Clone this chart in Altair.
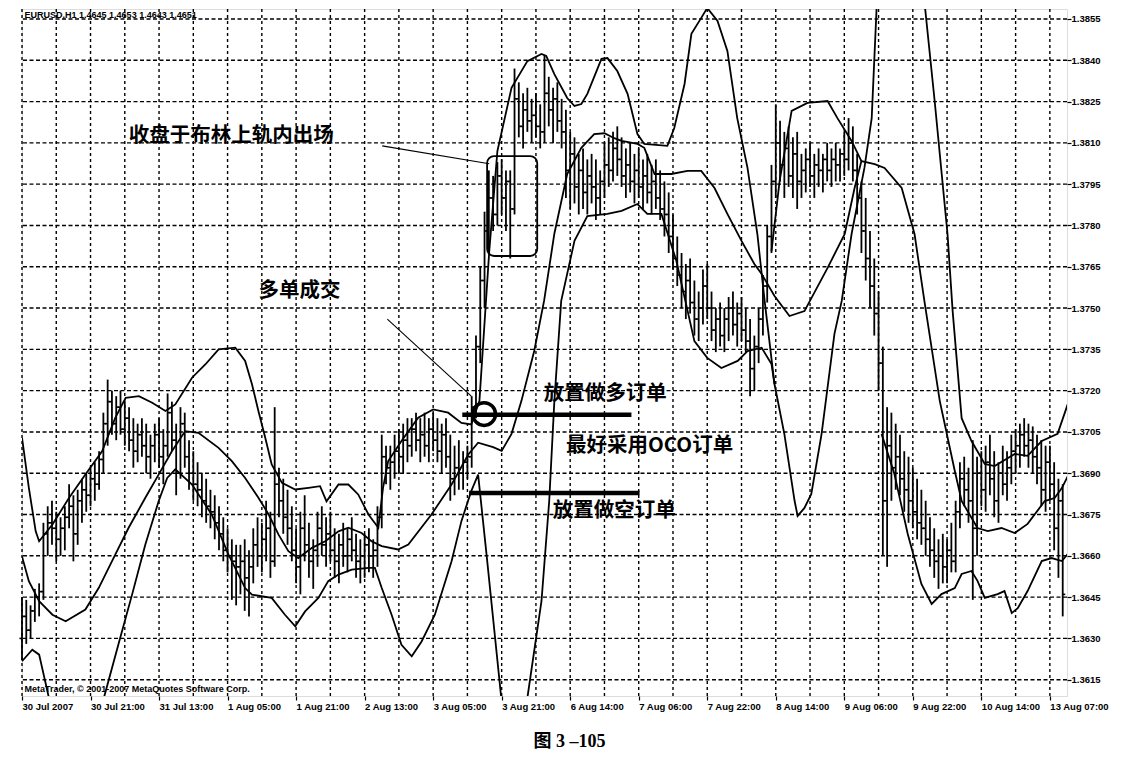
import altair as alt
import pandas as pd

BASE = 1.36
PIP = 0.0001

x_labels = ["30 Jul 2007", "30 Jul 21:00", "31 Jul 13:00", "1 Aug 05:00", "1 Aug 21:00",
            "2 Aug 13:00", "3 Aug 05:00", "3 Aug 21:00", "6 Aug 14:00", "7 Aug 06:00",
            "7 Aug 22:00", "8 Aug 14:00", "9 Aug 06:00", "9 Aug 22:00", "10 Aug 14:00",
            "13 Aug 07:00"]
label_bars = [0, 16, 32, 48, 64, 80, 96, 112, 128, 144, 160, 176, 192, 208, 224, 240]
grid_bars = [0, 8, 16, 24, 32, 40, 48, 56, 64, 72, 80, 88, 96, 104, 112, 120, 128, 136,
             144, 152, 160, 168, 176, 184, 192, 200, 208, 216, 224, 232, 240]
price_ticks = [1.3615, 1.3630, 1.3645, 1.3660, 1.3675, 1.3690, 1.3705, 1.3720, 1.3735,
               1.3750, 1.3765, 1.3780, 1.3795, 1.3810, 1.3825, 1.3840, 1.3855]

# OHLC in pips above 1.3600, one value per hourly bar
opens = [30,38,33,40,45,47,68,72,70,66, 70,74,78,68,80,84,82,88,86,95,
         108,116,108,114,106,110,102,98,104,100, 96,100,104,96,100,112,102,90,108,96,
         90,86,84,80,78,76,72,68,62,60, 58,56,58,52,56,64,60,66,70,58,
         86,80,74,70,62,56,70,64,58,62, 70,64,68,62,58,64,60,66,62,58,
         60,64,60,62,74,96,92,94,98,96, 102,100,106,102,104,100,106,102,98,104,
         96,88,92,90,94,96,114,136,160,178, 190,184,198,190,196,186,226,216,222,218,
         220,216,214,228,222,226,218,214,200,206, 194,200,192,198,194,190,196,202,200,208,
         204,198,202,196,200,194,198,192,196,190, 186,184,176,168,162,156,160,152,146,150,
         158,150,142,146,140,146,150,144,148,142, 138,128,136,146,158,176,196,210,202,208,
         198,206,196,200,204,198,202,200,204,200, 204,202,206,204,210,200,190,178,168,158,
         148,130,80,100,92,96,88,84,80,76, 72,70,66,62,58,60,56,62,58,76,
         88,84,80,70,90,84,94,88,80,90, 86,92,98,100,104,100,102,96,92,84,
         94,86,70,80]
highs = [45,44,42,48,50,72,78,80,76,74, 78,86,82,84,88,90,92,94,98,112,
         124,120,118,120,116,114,110,108,110,108, 104,108,110,106,119,116,108,114,112,102,
         98,94,90,88,84,82,78,74,70,66, 64,64,66,62,70,74,72,80,76,114,
         92,88,84,78,70,76,82,72,66,76, 78,74,76,70,68,72,70,74,68,66,
         68,70,66,78,104,100,100,104,106,108, 110,110,112,110,112,110,112,110,108,110,
         104,100,102,98,100,118,140,165,185,200, 198,203,204,200,200,237,232,228,230,226,
         228,224,242,234,230,232,226,222,214,212, 206,208,204,206,204,200,210,212,214,216,
         212,208,210,206,208,204,206,202,204,200, 196,192,184,176,170,166,168,160,156,164,
         166,156,150,152,150,154,156,152,154,150, 146,140,150,162,180,202,224,218,214,216,
         212,214,206,208,210,206,208,206,210,208, 210,208,214,219,216,206,196,190,178,168,
         156,136,114,112,108,104,98,96,92,88, 84,80,74,70,66,68,66,72,80,94,
         96,92,102,96,98,100,104,98,94,100, 98,104,106,108,110,108,107,104,102,100,
         100,94,88,86]
lows = [22,28,30,36,38,44,60,64,58,60, 62,70,58,64,72,76,78,80,84,90,
        100,104,102,104,100,98,92,94,96,90, 88,94,92,86,96,98,82,88,92,84,
        80,78,74,72,70,66,62,58,54,44, 42,46,40,38,50,56,54,58,52,56,
        74,68,64,58,50,46,58,52,48,56, 60,56,58,52,50,56,54,58,52,50,
        52,54,52,56,70,86,84,88,90,90, 94,96,98,94,96,94,98,94,90,92,
        80,82,84,84,88,92,110,130,150,170, 178,180,184,178,168,184,212,208,214,210,
        212,208,210,216,210,214,208,190,186,188, 184,186,184,188,182,184,190,194,196,198,
        194,190,192,188,190,186,188,184,186,182, 176,170,164,158,150,146,148,140,138,144,
        146,138,134,136,134,138,140,136,138,134, 118,120,130,140,152,170,190,196,190,194,
        190,186,190,192,194,190,194,192,196,194, 196,196,198,200,196,184,170,160,150,140,
        120,60,56,80,84,82,76,72,70,66, 64,60,56,52,48,50,50,54,54,70,
        78,72,44,60,78,76,82,74,72,82, 80,86,90,92,96,92,90,86,78,76,
        80,62,52,38]
closes = [38,33,40,45,47,68,72,70,66,70, 74,78,68,80,84,82,88,86,95,108,
          116,108,114,106,110,102,98,104,100,96, 100,104,96,100,112,102,90,108,96,90,
          86,84,80,78,76,72,68,62,60,58, 56,58,52,56,64,60,66,70,58,86,
          80,74,70,62,56,70,64,58,62,70, 64,68,62,58,64,60,66,62,58,60,
          64,60,62,74,96,92,94,98,96,102, 100,106,102,104,100,106,102,98,104,96,
          88,92,90,94,96,114,136,160,178,190, 184,198,190,196,186,226,216,222,218,220,
          216,214,228,222,226,218,214,200,206,194, 200,192,198,194,190,196,202,200,208,204,
          198,202,196,200,194,198,192,196,190,186, 184,176,168,162,156,160,152,146,150,158,
          150,142,146,140,146,150,144,148,142,138, 128,136,146,158,176,196,210,202,208,198,
          206,196,200,204,198,202,200,204,200,204, 202,206,204,210,200,190,178,168,158,148,
          130,80,100,92,96,88,84,80,76,72, 70,66,62,58,60,56,62,58,76,88,
          84,80,70,90,84,94,88,80,90,86, 92,98,100,104,100,102,96,92,84,94,
          86,70,80,46]

# indicator curves: (bar index, pips above 1.3600)
upper_bars = [0, 1.6, 3.2, 4.0, 7.1, 11.0, 14.8, 18.7, 21.8, 24.2, 27.3, 30.4, 33.5, 35.8,
              39.7, 42.8, 45.9, 49.8, 52.1, 53.7, 55.2, 56.8, 58.3, 60.7, 63.8, 66.9, 69.6,
              71.1, 73.9, 76.2, 78.5, 80.9, 83.2, 84.3, 85.5, 88.6, 92.5, 96.0, 99.5, 102.6,
              104.9, 106.8, 109.1, 111, 114.3, 118, 121.3, 122.4, 124.3, 127.3, 129,
              130.6, 132, 135.3, 136.7, 139, 141.4, 143.7, 145.3, 150.7, 152.3, 154.7,
              156.3, 158.6, 160, 162.4, 164.7, 167, 169.4, 171.7, 173.4, 175.7, 178,
              180.4, 181.1, 182.7, 184.3, 186.7, 189.7, 191.4, 193.7, 196.7, 198.4, 200]
upper_pips = [102.9, 84.7, 68.9, 65.3, 71.4, 81.1, 89.5, 98, 110.2, 117.4, 118, 115.6, 112.6,
              115, 124.7, 129.5, 135, 135.6, 130.8, 122.3, 112.6, 102.9, 93.2, 86.5, 84.1,
              84.7, 85.3, 79.8, 85.9, 85.9, 82.3, 75, 70.2, 84.7, 94.4, 101.7, 110.2, 113.2,
              112, 108.3, 107.7, 116.2, 170.7, 207, 230, 239.7, 242.3, 241.6, 235, 226.3,
              223.4, 224.1, 227.8, 240.5, 240.8, 236.1, 227.8, 213.2, 209.6, 208.9, 215.4,
              231.4, 249.6, 255.4, 259, 254.3, 243.4, 219, 200.9, 176.9, 152.6, 122.4,
              104.3, 79.9, 74.5, 77.4, 82.5, 104.3, 140.6, 152.6, 176.9, 200.9, 219, 275]
middle_bars = [0, 1.6, 4.0, 7.1, 10.2, 14.8, 17.9, 21.8, 24.9, 28.8, 31.9, 35.0, 38.1, 41.2,
               45.9, 49.0, 52.1, 55.2, 57.6, 59.9, 62.2, 64.5, 67.7, 70.8, 73.9, 76.2, 79.3,
               81.6, 84.0, 87.8, 90.2, 95.6, 100.3, 104.2, 106.5, 110, 112, 114.3, 116.6,
               119.6, 121.9, 124.3, 127.3, 130.6, 133.6, 136, 138.3, 140, 143.7, 145.3,
               147.7, 151.6, 155.4, 158.6, 161.7, 164.7, 168, 171, 172.7, 175.7, 179.2,
               182.7, 188.1, 192.1, 194.4, 196, 199.1, 201.4, 205.4, 208.4, 210.7, 214.3,
               217.8, 219.4, 223.1, 225.5, 228.7, 231.8, 234.8, 238.8, 241.1, 242.8, 244.2]
middle_pips = [59.8, 50.8, 43.5, 38.6, 36.2, 40.5, 48.3, 60.5, 70.2, 81.1, 89.5, 98, 105.3,
               104.7, 99.2, 94.4, 88.3, 81.1, 75, 67.7, 61.7, 59.2, 62.9, 65.3, 68.9, 70.2,
               68.3, 65.3, 63.5, 62.3, 64.1, 75, 85.9, 96.8, 101.1, 99.5, 98.1, 104.3, 116.2,
               134.4, 152.6, 177, 198.7, 208.2, 213.2, 213.5, 211.7, 210.7, 209.6, 208.2,
               198.7, 198.7, 199.8, 199.8, 193.6, 184.2, 174.4, 166, 162.4, 154.4, 147.1,
               148.9, 164.6, 176.9, 193.6, 203.4, 202.3, 200.9, 193.6, 176.9, 152.6, 116.2,
               90.8, 79.9, 70.1, 69, 70.1, 68.3, 71.6, 79.9, 81, 84.6, 89]
lower_bars = [18.3, 19.1, 22.6, 25.7, 28.8, 31.9, 33.9, 35.8, 39.7, 44.3, 48.2, 52.1, 53.7,
              58.3, 61.4, 63.8, 66.1, 69.2, 71.5, 73.9, 77.0, 80.9, 82.4, 84.0, 86.3, 88.6,
              91.0, 93.3, 96.4, 100.3, 102.6, 104.9, 106.5, 108.5, 111.9, 113]
lower_pips = [-2.6, 8.3, 28.3, 45.9, 64.1, 79.8, 88.3, 91.4, 85.9, 75, 60.5, 48.3, 45.9,
              44.7, 38.6, 34.4, 39.8, 44.7, 50.8, 53.2, 55, 55.6, 55.6, 48.3, 38.6, 27.7,
              23.5, 28.9, 38.6, 58, 72.6, 83.5, 89.5, 60, 8.4, -10]
hump_bars = [0, 2.4, 4.0, 6.3, 7.1]
hump_pips = [21.7, 25.9, 24.1, 8.3, -2.6]
rise_bars = [117, 118, 121.3, 123.1, 124.3, 125.9, 129, 132, 136.7, 140, 143.7, 146, 149.3,
             152.8, 157, 160, 163.3, 167.1, 169.4, 172.7, 175, 175.7]
rise_pips = [-10, 8.4, 43.6, 79.9, 116.2, 152.6, 174.4, 183.4, 184.2, 185.3, 187.8, 184.2,
             184.2, 167.1, 138, 131.9, 128.2, 130.8, 134.4, 135.6, 129.7, 122.4]
top8_bars = [175, 176.9, 179.7, 183.4, 188.1, 190.4, 193.7, 196]
top8_pips = [170.7, 196.2, 221.6, 224.5, 225.2, 219, 210.7, 203.4]
band_right_bars = [210, 210.7, 213.1, 216.1, 217.3, 219.4, 221.7, 224.8, 227.1, 231.8,
                   234.8, 238.1, 241.8, 244.2]
band_right_pips = [275, 261.5, 225.2, 176.9, 148.9, 110, 101.7, 93.4, 92.6, 97, 96.3,
                   101.7, 104.3, 115.2]
low_right_bars = [200.7, 203.7, 206.8, 210, 212.4, 214.7, 217.8, 219.4, 221.7, 223.1,
                  224.8, 227.8, 229.4, 231.1, 232.5, 234.8, 238.1, 240.4, 242.8, 244.2]
low_right_pips = [104.3, 89.7, 68, 49.8, 42.5, 46.1, 48.3, 53.4, 54.5, 50.9, 44.7, 46.1,
                  47.2, 39.2, 41, 47.2, 58.1, 59.2, 58.1, 60.7]

# annotation texts
note_exit = "收盘于布林上轨内出场"
note_fill = "多单成交"
note_buy = "放置做多订单"
note_oco = "最好采用OCO订单"
note_sell = "放置做空订单"
header = "EURUSD,H1  1.4645 1.4653 1.4643 1.4651"
copyright_txt = "MetaTrader, © 2001-2007 MetaQuotes Software Corp."
caption = "图 3 –105"

W, H = 1045, 687
xs = alt.Scale(domain=[0, 244], nice=False, zero=False)
ys = alt.Scale(domain=[1.360908, 1.385863], nice=False, zero=False)


def P(v):
    return BASE + v * PIP


bars = pd.DataFrame({"i": range(len(opens)),
                     "open": [P(v) for v in opens], "high": [P(v) for v in highs],
                     "low": [P(v) for v in lows], "close": [P(v) for v in closes]})

curves = {"upper": (upper_bars, upper_pips), "middle": (middle_bars, middle_pips),
          "lower": (lower_bars, lower_pips), "hump": (hump_bars, hump_pips),
          "rise": (rise_bars, rise_pips), "top8": (top8_bars, top8_pips),
          "bandr": (band_right_bars, band_right_pips),
          "lowr": (low_right_bars, low_right_pips)}
rows = []
for name, (bx, py) in curves.items():
    for k, (b, p) in enumerate(zip(bx, py)):
        rows.append({"curve": name, "seq": k, "bar": b, "price": P(p)})
lines_df = pd.DataFrame(rows)

label_js = "[" + ",".join("'%s'" % s for s in x_labels) + "]"

xaxis = alt.Axis(values=label_bars, labelExpr=label_js + "[round(datum.value/16)]",
                 labelAlign="left", labelFont="Liberation Sans", labelFontWeight="bold",
                 labelFontSize=9.5, labelColor="black", labelPadding=1,
                 labelFlush=False, labelOverlap=False, tickSize=4, tickColor="black",
                 tickWidth=1.2, domain=False, grid=False, title=None)
yaxis = alt.Axis(orient="right", values=price_ticks, format=".4f",
                 labelFont="Liberation Sans", labelFontWeight="bold", labelFontSize=9.5,
                 labelColor="black", labelPadding=0, labelFlush=False, labelOverlap=False,
                 tickSize=4, tickColor="black", tickWidth=1.2, domain=False, grid=False,
                 title=None)

hgrid = alt.Chart(pd.DataFrame({"y": price_ticks})).mark_rule(
    color="black", strokeWidth=1.4, strokeDash=[4, 2.5]).encode(
    y=alt.Y("y:Q", scale=ys, axis=yaxis))
vgrid = alt.Chart(pd.DataFrame({"x": grid_bars})).mark_rule(
    color="black", strokeWidth=1.4, strokeDash=[3, 3]).encode(
    x=alt.X("x:Q", scale=xs, axis=xaxis))

base = alt.Chart(bars)
hl = base.mark_rule(color="black", strokeWidth=1.8).encode(
    x=alt.X("i:Q", scale=xs), y=alt.Y("low:Q", scale=ys), y2="high:Q")
op = base.transform_calculate(xl="datum.i - 0.6").mark_rule(
    color="black", strokeWidth=1.6).encode(
    x=alt.X("xl:Q", scale=xs), x2="i:Q", y=alt.Y("open:Q", scale=ys))
cl = base.transform_calculate(xr="datum.i + 0.6").mark_rule(
    color="black", strokeWidth=1.6).encode(
    x=alt.X("i:Q", scale=xs), x2="xr:Q", y=alt.Y("close:Q", scale=ys))

curve_layer = alt.Chart(lines_df).mark_line(color="black", strokeWidth=1.8, clip=True).encode(
    x=alt.X("bar:Q", scale=xs), y=alt.Y("price:Q", scale=ys),
    detail="curve:N", order="seq:Q")

seg_x = [[84.1, 109.1], [85.3, 104.9]]
seg_y = [[208.9, 202.4], [146, 118]]
thin_segs = []
for sx, sy in zip(seg_x, seg_y):
    d = pd.DataFrame({"x": sx, "y": [P(v) for v in sy]})
    thin_segs.append(alt.Chart(d).mark_line(color="black", strokeWidth=1.1).encode(
        x=alt.X("x:Q", scale=xs), y=alt.Y("y:Q", scale=ys)))

thick_df = pd.DataFrame({"x": [102.8, 104.4], "x2": [142.3, 144.2],
                         "y": [P(111.2), P(82.8)]})
thick = alt.Chart(thick_df).mark_rule(color="black", strokeWidth=4.5).encode(
    x=alt.X("x:Q", scale=xs), x2="x2:Q", y=alt.Y("y:Q", scale=ys))

box_df = pd.DataFrame({"x": [108.6], "x2": [120.3], "y": [P(205.2)], "y2": [P(168.9)]})
box = alt.Chart(box_df).mark_rect(fillOpacity=0, stroke="black", strokeWidth=1.8,
                                  cornerRadius=7).encode(
    x=alt.X("x:Q", scale=xs), x2="x2:Q", y=alt.Y("y:Q", scale=ys), y2="y2:Q")

ring_df = pd.DataFrame({"x": [107.9], "y": [P(111.5)]})
ring = alt.Chart(ring_df).mark_point(shape="circle", size=520, filled=False,
                                     color="black", strokeWidth=3.5, opacity=1).encode(
    x=alt.X("x:Q", scale=xs), y=alt.Y("y:Q", scale=ys))

cn_df = pd.DataFrame({"t": [note_exit, note_fill, note_buy, note_oco, note_sell],
                      "x": [24.9, 55.2, 121.8, 127, 123.9],
                      "y": [P(212.5), P(156.2), P(118.8), P(100), P(76.3)]})
cn = alt.Chart(cn_df).mark_text(align="left", baseline="middle",
                                font="Noto Sans CJK SC", fontSize=20.5, fontWeight="bold",
                                color="black").encode(
    x=alt.X("x:Q", scale=xs), y=alt.Y("y:Q", scale=ys), text="t:N")

small_df = pd.DataFrame({"t": [header, copyright_txt], "x": [0.6, 0.6],
                         "y": [P(256.4), P(11.8)]})
small = alt.Chart(small_df).mark_text(align="left", baseline="middle",
                                      font="Liberation Sans", fontSize=9,
                                      fontWeight="bold", color="black").encode(
    x=alt.X("x:Q", scale=xs), y=alt.Y("y:Q", scale=ys), text="t:N")

chart = alt.layer(vgrid, hgrid, curve_layer, hl, op, cl, *thin_segs, thick, box, ring,
                  cn, small).properties(
    width=W, height=H,
    padding={"left": 10, "top": 0, "right": 4, "bottom": 0},
    title=alt.TitleParams(caption, orient="bottom", anchor="middle", fontSize=18,
                          font="Liberation Serif, Noto Sans CJK SC", fontWeight="bold",
                          color="black", offset=22, dx=25),
).configure_view(stroke="black", strokeWidth=2).configure(background="white")

chart.save("out.html", embed_options={"renderer": "svg", "actions": False})
